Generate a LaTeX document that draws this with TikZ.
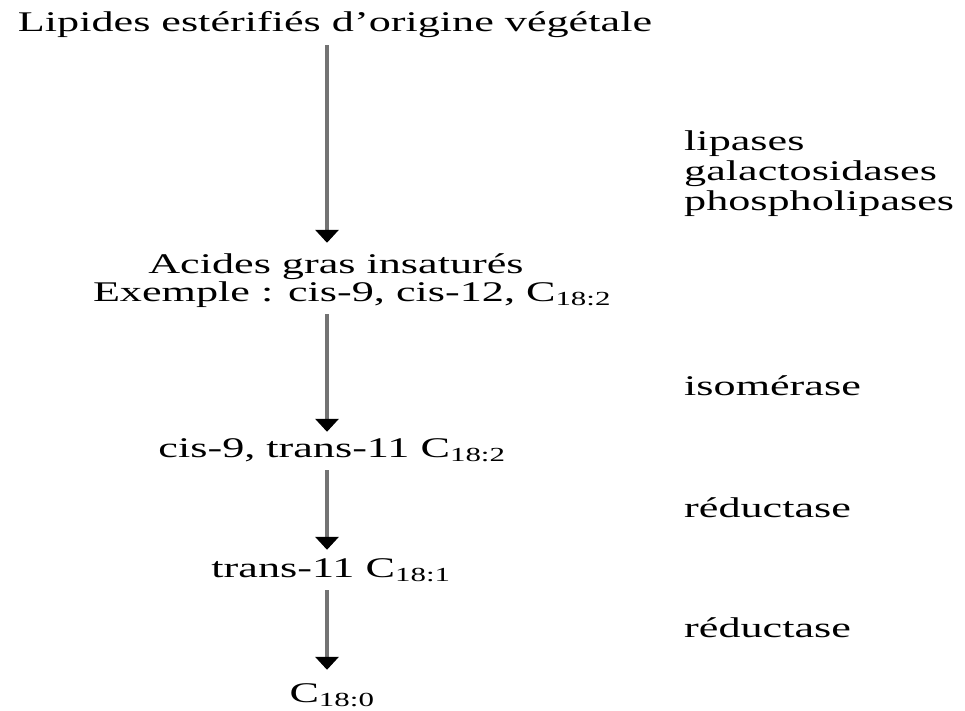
\documentclass[tikz,border=0pt]{standalone}
\usepackage{fontspec}
\setmainfont{Liberation Serif}[FakeStretch=1.55]
\usepackage{tikz}
\usetikzlibrary{arrows.meta, positioning, calc}
\tikzset{
    chem/.style={
        anchor=base, inner sep=0pt,
        text height=20pt, text depth=7pt,
        font=\fontsize{28.5}{30}\selectfont
    },
    enzyme/.style={
        anchor=base west, inner sep=0pt, align=left,
        font=\fontsize{28.5}{30}\selectfont
    },
    flow/.style={
        draw=black!55, line width=4pt,
        -{Triangle[width=23pt, length=13pt, color=black]},
        shorten <=6pt
    }
}
\begin{document}
\begin{tikzpicture}[x=1pt, y=-1pt]
        \useasboundingbox (0,0) rectangle (965,711);
        % Nodes
        \node [chem] (lipides) at (335,32) {Lipides estérifiés d’origine végétale};
        \node [chem] (acides) at (336,273) {Acides gras insaturés};
        \node [chem] (exemple) at (352,301) {Exemple : cis-9, cis-12, C\textsubscript{18:2}};
        \node [chem] (cistrans) at (332,457) {cis-9, trans-11 C\textsubscript{18:2}};
        \node [chem] (trans) at (331,577) {trans-11 C\textsubscript{18:1}};
        \node [chem] (stearique) at (332,702) {C\textsubscript{18:0}};
        \coordinate (axe) at (327,0);

        % Enzymes (base = last line)
        \node [enzyme] (hydrolases) at (684,211) {lipases\\galactosidases\\phospholipases};
        \node [enzyme] (isomerase) at (684,395) {isomérase};
        \node [enzyme] (reductaseA) at (684,517) {réductase};
        \node [enzyme] (reductaseB) at (684,637) {réductase};

        % Edges
        \draw [flow, shorten >=10pt] (lipides.south -| axe) -- (acides.north -| axe);
        \draw [flow, shorten >=5pt] (exemple.south -| axe) -- (cistrans.north -| axe);
        \draw [flow, shorten >=7pt] (cistrans.south -| axe) -- (trans.north -| axe);
        \draw [flow, shorten >=12pt] (trans.south -| axe) -- (stearique.north -| axe);

    \end{tikzpicture}
\end{document}
